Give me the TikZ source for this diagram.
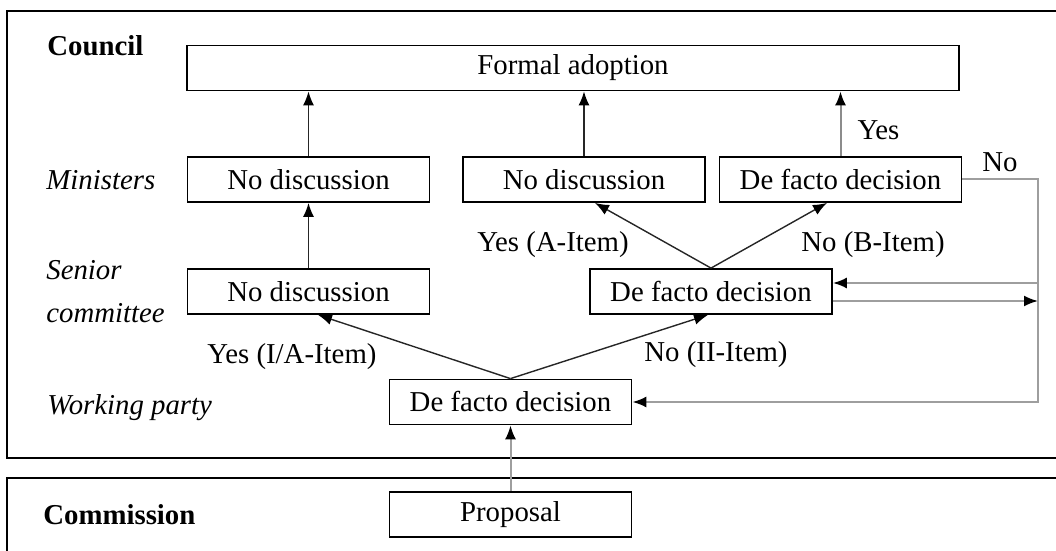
\documentclass[tikz,border=0pt]{standalone}
\usepackage{fontspec}
\setmainfont{Liberation Serif}
\usetikzlibrary{arrows.meta}

\newcommand\diagfont{\fontsize{14.4}{21.5}\selectfont}

\begin{document}
\begin{tikzpicture}[x=0.5pt, y=-0.5pt, node distance=56pt, auto]
  \tikzstyle{block} = [rectangle, draw, line width=0.9pt, font=\diagfont,
    minimum width=121pt, minimum height=22.5pt, inner sep=0pt]
  \tikzstyle{level} = [anchor=west, inner sep=0pt, font=\diagfont\itshape, align=left]
  \tikzstyle{body} = [anchor=west, inner sep=0pt, font=\diagfont\bfseries]
  \tikzstyle{lbl} = [inner sep=0pt, text=black, font=\diagfont]
  \tikzstyle{frame} = [draw, line width=1pt]
  \tikzstyle{line} = [draw, line width=0.7pt, black!85,
    -{Latex[length=7pt,width=5.5pt,color=black]}]
  \tikzstyle{feedback} = [line, line width=1pt, black!38]

  \clip (0,0) rectangle (1056,551);

  % Frames
  \draw [frame] (7,11) rectangle (1070,458);
  \draw [frame] (7,478) rectangle (1070,570);

  % Place labels
  \node [body] (council) at (47,46) {Council};
  \node [level] (ministers) at (46,180) {Ministers};
  \node [level] (senior) at (46,291.5) {Senior\\committee};
  \node [level] (working) at (47,408) {Working party};
  \node [body] (commission) at (43,515) {Commission};

  % Place nodes
  \node [block, minimum width=386pt] (adopt) at (573,68) {Formal adoption};
  \node [block] (mnd1) at (308.5,179.5) {No discussion};
  \node [block] (mnd2) at (584,179.5) {No discussion};
  \node [block] (mdf) at (840.5,179.5) {De facto decision};
  \node [block, below of=mnd1] (snd) {No discussion};
  \node [block] (sdf) at (711,291.5) {De facto decision};
  \node [block] (wdf) at (510.5,402) {De facto decision};
  \node [block, below of=wdf, node distance=56.25pt] (prop) {Proposal};
  \coordinate (rail) at (1038,177);
  \coordinate (sdfin) at ([yshift=4.25pt]sdf.east);
  \coordinate (sdfout) at ([yshift=-4.75pt]sdf.east);

  % Draw edges
  \path [line] (mnd1.north) -- (mnd1.north |- adopt.south);
  \path [line] (mnd2.north) -- (mnd2.north |- adopt.south);
  \path [line, black!45, line width=1pt] (mdf.north) -- node [lbl, right=8pt, pos=0.4] {Yes} (mdf.north |- adopt.south);
  \path [line] (snd.north) -- (mnd1.south);

  \path [line] (sdf.north) -- ([xshift=5.5pt]mnd2.south);
  \path [line] (sdf.north) -- ([xshift=-6.75pt]mdf.south);
  \path [line] (wdf.north) -- ([xshift=4.75pt]snd.south);
  \path [line] (wdf.north) -- ([xshift=-1.5pt]sdf.south);

  \path [feedback] (prop.north) -- (wdf.south);
  \path [feedback] (mdf.east) -| (rail |- wdf.east) -- (wdf.east);
  \path [feedback] (rail |- sdfin) -- (sdfin);
  \path [feedback] (sdfout) -- (rail |- sdfout);

  % Edge labels
  \node [lbl] (noback) at (1000,162) {No};
  \node [lbl] (yesa) at (553,245) {Yes (A-Item)};
  \node [lbl] (nob) at (873,245) {No (B-Item)};
  \node [lbl] (yesia) at (292,357) {Yes (I/A-Item)};
  \node [lbl] (noii) at (716,355) {No (II-Item)};

\end{tikzpicture}
\end{document}
